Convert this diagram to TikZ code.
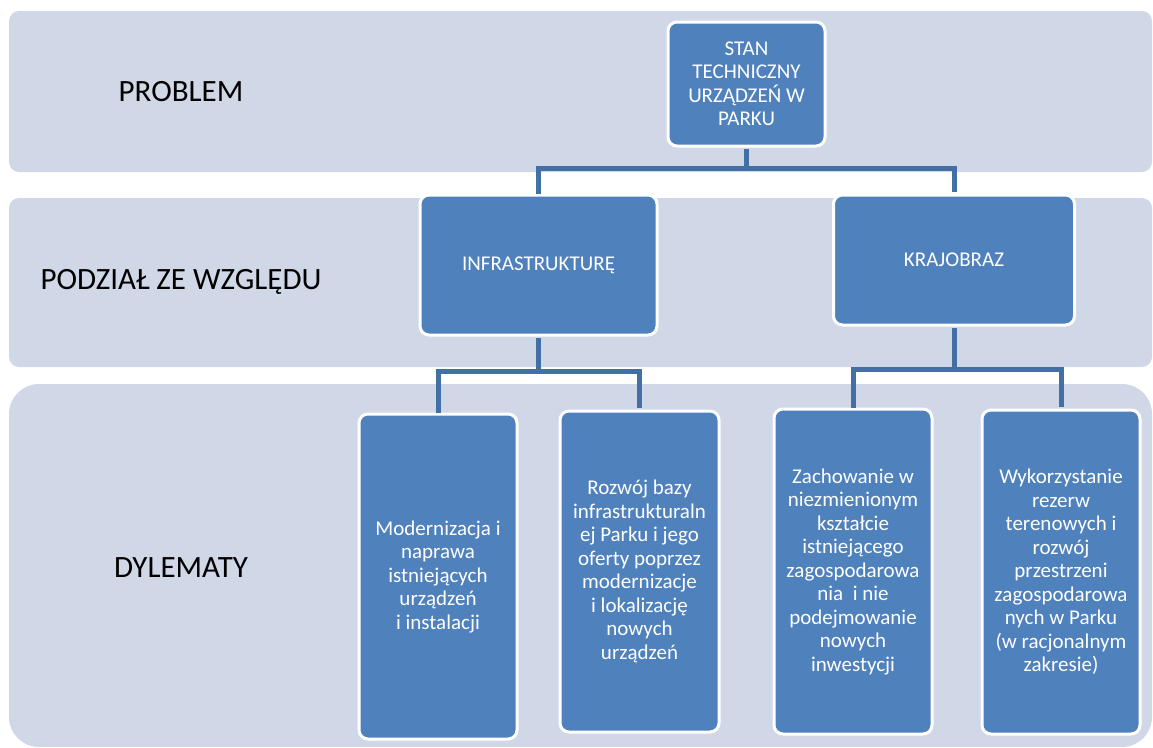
\documentclass[tikz,border=0pt]{standalone}
\usepackage{fontspec}
\setmainfont{Carlito}
\usetikzlibrary{positioning}
\definecolor{bandfill}{HTML}{D0D8E8}
\definecolor{boxfill}{HTML}{4F81BD}
\definecolor{linkcol}{HTML}{4270A5}
\tikzset{band/.style={fill=bandfill, rounded corners=10pt}}
\tikzset{lvl/.style={font=\fontsize{31}{36}\selectfont, text=black}}
\tikzset{sbox/.style={rounded corners=9pt, draw=white, line width=3pt, fill=boxfill, text=white, align=center, inner sep=0pt, font=\fontsize{21}{23.5}\selectfont}}
\tikzset{link/.style={draw=linkcol, line width=5pt, shorten <=1.5pt, shorten >=1.5pt}}
\newcommand\forkarr[4]{
		\coordinate (fork-#1) at ([yshift=-#4pt]#1.south);
		\draw[link, shorten >=0] (#1.south) -- (fork-#1);
		\draw[link, shorten <=0] (#2.north) |- (fork-#1) -| (#3.north);
	}

\begin{document}
\begin{tikzpicture}[x=1pt, y=-1pt]
                \useasboundingbox (0,0) rectangle (1153,747);
                \fill[band] (9,11) rectangle (1152,172);
                \fill[band] (9,198) rectangle (1152,367);
                \fill[band, rounded corners=30pt] (9,384) rectangle (1152,747);

                \node[lvl] (lprob) at (181,92) {PROBLEM};
                \node[lvl] (lpodz) at (181,282) {PODZIAŁ ZE WZGLĘDU};
                \node[lvl] (ldyl) at (181,568) {DYLEMATY};

                \node[sbox, minimum width=157pt, minimum height=124pt] (stan) at (746.5,84) {STAN\\TECHNICZNY\\URZĄDZEŃ W\\PARKU};
                \node[sbox, minimum width=237pt, minimum height=140pt] (infra) at (538.5,265) {INFRASTRUKTURĘ};
                \node[sbox, minimum width=241pt, minimum height=130pt] (kraj) at (954,260) {KRAJOBRAZ};

                \node[sbox, minimum width=158pt, minimum height=325pt] (modern) at (438,576.5) {Modernizacja i\\naprawa\\istniejących\\urządzeń\\i instalacji};
                \node[sbox, minimum width=159pt, minimum height=321pt] (rozwoj) at (639.5,571.5) {Rozwój bazy\\infrastrukturaln\\ej Parku i jego\\oferty poprzez\\modernizacje\\i lokalizację\\nowych\\urządzeń};
                \node[sbox, minimum width=158pt, minimum height=325pt] (zachow) at (853,571.5) {Zachowanie w\\niezmienionym\\kształcie\\istniejącego\\zagospodarowa\\nia\ \ i nie\\podejmowanie\\nowych\\inwestycji};
                \node[sbox, minimum width=158pt, minimum height=324pt] (wykorz) at (1061,572) {Wykorzystanie\\rezerw\\terenowych i\\rozwój\\przestrzeni\\zagospodarowa\\nych w Parku\\(w racjonalnym\\zakresie)};

                % \draw[link] (stan) -- (infra);
                \forkarr{stan}{infra}{kraj}{21}
                \forkarr{infra}{modern}{rozwoj}{35}
                \forkarr{kraj}{zachow}{wykorz}{43}
            \end{tikzpicture}
\end{document}
